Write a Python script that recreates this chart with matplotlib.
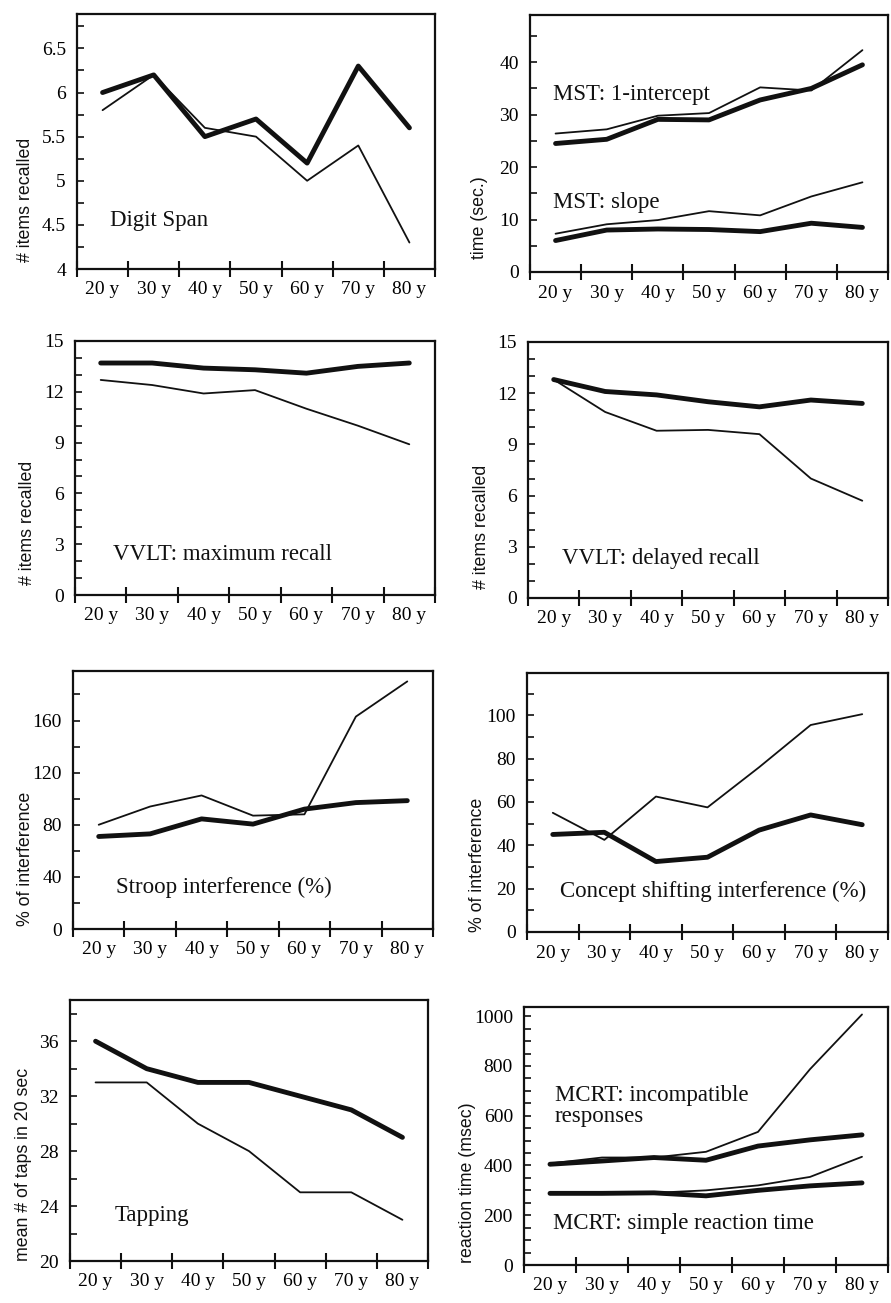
import numpy as np
import matplotlib
matplotlib.use('Agg')
import matplotlib.pyplot as plt
from matplotlib.ticker import MultipleLocator, FixedLocator, NullFormatter

plt.rcParams['font.family'] = ['Liberation Serif', 'DejaVu Serif']

ages = ['20 y', '30 y', '40 y', '50 y', '60 y', '70 y', '80 y']

# thick line / thin line per test
digit_bold = [6.0, 6.2, 5.5, 5.7, 5.2, 6.3, 5.6]
digit_thin = [5.8, 6.2, 5.6, 5.5, 5.0, 5.4, 4.3]

mst_int_bold = [24.5, 25.3, 29.1, 29.0, 32.8, 35.0, 39.5]
mst_int_thin = [26.4, 27.2, 29.8, 30.3, 35.2, 34.6, 42.3]
mst_slope_bold = [6.0, 8.0, 8.2, 8.1, 7.7, 9.3, 8.5]
mst_slope_thin = [7.3, 9.1, 9.9, 11.6, 10.8, 14.4, 17.1]

vvlt_max_bold = [13.7, 13.7, 13.4, 13.3, 13.1, 13.5, 13.7]
vvlt_max_thin = [12.7, 12.4, 11.9, 12.1, 11.0, 10.0, 8.9]

vvlt_del_bold = [12.8, 12.1, 11.9, 11.5, 11.2, 11.6, 11.4]
vvlt_del_thin = [12.8, 10.9, 9.8, 9.85, 9.6, 7.0, 5.7]

stroop_bold = [71, 73, 84.5, 80.5, 92, 97, 98.5]
stroop_thin = [80, 94, 102.5, 87, 88, 163, 190]

concept_bold = [45, 46, 32.5, 34.5, 47, 54, 49.5]
concept_thin = [55, 42.5, 62.5, 57.5, 76, 95.5, 100.5]

tap_bold = [36, 34, 33, 33, 32, 31, 29]
tap_thin = [33, 33, 30, 28, 25, 25, 23]

mcrt_inc_bold = [405, 418, 432, 421, 478, 503, 523]
mcrt_inc_thin = [408, 432, 432, 455, 535, 787, 1007]
mcrt_simple_bold = [288, 288, 290, 278, 300, 318, 330]
mcrt_simple_thin = [290, 290, 290, 300, 320, 354, 435]

W, H = 891, 1303
fig = plt.figure(figsize=(W / 100, H / 100), dpi=100)

ink = '#111111'
xc = np.arange(7) + 0.5


def panel(box, ylim, major, minor, ylabel, ylab_pos, series, notes, labfmt=None):
    l, r, t, b = box
    ax = fig.add_axes([l / W, 1 - b / H, (r - l) / W, (b - t) / H])
    for vals, lw in series:
        ax.plot(xc, vals, color=ink, lw=lw, solid_joinstyle='round', solid_capstyle='round')
    ax.set_xlim(0, 7)
    ax.set_ylim(*ylim)
    # bin borders: crossing ticks; bin centres carry the labels
    ax.xaxis.set_major_locator(FixedLocator(np.arange(8)))
    ax.xaxis.set_major_formatter(NullFormatter())
    ax.xaxis.set_minor_locator(FixedLocator(xc))
    ax.set_xticklabels(ages, minor=True)
    ax.tick_params(axis='x', which='major', direction='inout', length=12, width=1.5, color=ink)
    ax.tick_params(axis='x', which='minor', length=0, pad=9, labelsize=14)
    ax.yaxis.set_major_locator(FixedLocator(major))
    ax.yaxis.set_minor_locator(MultipleLocator(minor))
    if labfmt:
        ax.set_yticklabels(labfmt)
    ax.tick_params(axis='y', which='both', direction='in', length=5, width=1.2, color=ink,
                   labelsize=14, pad=8)
    ax.tick_params(top=False, right=False)
    for s in ax.spines.values():
        s.set_linewidth(1.6)
        s.set_color(ink)
    ax.text(ylab_pos[0], ylab_pos[1], ylabel, transform=ax.transAxes, rotation=90,
            ha='center', va='center', fontsize=12.8, family=['Liberation Sans', 'DejaVu Sans'],
            color=ink)
    for x, y, s in notes:
        ax.text(x, y, s, transform=ax.transAxes, ha='left', va='center', fontsize=16.5,
                color=ink, linespacing=1.0)
    return ax


B, T = 3.5, 1.3

panel((77, 435, 14, 269), (4, 6.89), [4, 4.5, 5, 5.5, 6, 6.5], 0.25, '# items recalled',
      (-0.145, 0.27), [(digit_thin, T), (digit_bold, B)], [(0.092, 0.19, 'Digit Span')],
      ['4', '4.5', '5', '5.5', '6', '6.5'])

panel((530, 888, 15, 272), (0, 49), [0, 10, 20, 30, 40], 5, 'time (sec.)',
      (-0.14, 0.21),
      [(mst_int_thin, T), (mst_int_bold, B), (mst_slope_thin, T), (mst_slope_bold, B)],
      [(0.064, 0.69, 'MST: 1-intercept'), (0.064, 0.272, 'MST: slope')])

panel((75, 435, 341, 595), (0, 15), [0, 3, 6, 9, 12, 15], 1, '# items recalled',
      (-0.133, 0.283), [(vvlt_max_thin, T), (vvlt_max_bold, B)],
      [(0.106, 0.161, 'VVLT: maximum recall')])

panel((528, 888, 342, 598), (0, 15), [0, 3, 6, 9, 12, 15], 1, '# items recalled',
      (-0.128, 0.277), [(vvlt_del_thin, T), (vvlt_del_bold, B)],
      [(0.094, 0.156, 'VVLT: delayed recall')])

panel((73, 433, 671, 929), (0, 198), [0, 40, 80, 120, 160], 20, '% of interference',
      (-0.131, 0.27), [(stroop_thin, T), (stroop_bold, B)],
      [(0.119, 0.163, 'Stroop interference (%)')])

panel((527, 888, 673, 932), (0, 119.5), [0, 20, 40, 60, 80, 100, 120], 10, '% of interference',
      (-0.136, 0.26), [(concept_thin, T), (concept_bold, B)],
      [(0.091, 0.158, 'Concept shifting interference (%)')])

panel((70, 428, 1000, 1261), (20, 39), [20, 24, 28, 32, 36], 2, 'mean # of taps in 20 sec',
      (-0.131, 0.37), [(tap_thin, T), (tap_bold, B)], [(0.126, 0.176, 'Tapping')])

panel((524, 888, 1007, 1265), (0, 1037), [0, 200, 400, 600, 800, 1000], 50,
      'reaction time (msec)', (-0.154, 0.32),
      [(mcrt_inc_thin, T), (mcrt_inc_bold, B), (mcrt_simple_thin, T), (mcrt_simple_bold, B)],
      [(0.085, 0.616, 'MCRT: incompatible\nresponses'), (0.08, 0.159, 'MCRT: simple reaction time')])

fig.savefig('out.png', dpi=100, facecolor='white')
